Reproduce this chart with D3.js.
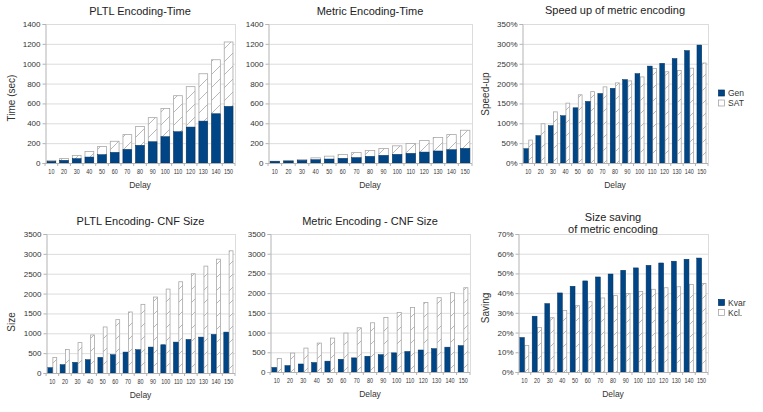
<!DOCTYPE html>
<html>
<head>
<meta charset="utf-8">
<script src="https://cdn.jsdelivr.net/npm/d3@7/dist/d3.min.js"></script>
<style>
    body { margin: 0; background: #fff; }
    svg { display: block; font-family: "Liberation Sans", Arial, sans-serif; }
</style>
</head>
<body>
<div class="container"></div>
<script>
// ---- data ----
const delays = [10, 20, 30, 40, 50, 60, 70, 80, 90, 100, 110, 120, 130, 140, 150]

// encoding time (sec), blue = generation, white = total (generation + SAT)
const pltlTimeGen   = [17, 27, 44, 60, 84, 107, 137, 178, 214, 265, 315, 362, 422, 496, 570]
const pltlTimeTotal = [30, 50, 80, 120, 171, 224, 291, 372, 462, 553, 683, 774, 904, 1045, 1224]
const metricTimeGen   = [17, 20, 27, 33, 40, 47, 54, 67, 77, 87, 97, 110, 121, 134, 147]
const metricTimeTotal = [23, 30, 40, 57, 74, 90, 110, 131, 151, 178, 201, 231, 261, 291, 335]

// speed-up (%)
const speedupGen = [36, 69, 94, 119, 139, 155, 175, 188, 210, 225, 244, 251, 263, 283, 297]
const speedupSat = [59, 100, 130, 152, 173, 181, 193, 203, 208, 218, 239, 231, 234, 240, 253]

// CNF size, blue = variables, white = clauses
const pltlSizeVars    = [134, 209, 268, 335, 393, 460, 527, 586, 653, 711, 778, 845, 904, 971, 1030]
const pltlSizeClauses = [402, 603, 778, 971, 1172, 1356, 1549, 1741, 1925, 2126, 2310, 2511, 2704, 2879, 3089]
const metricSizeVars    = [115, 162, 203, 240, 275, 322, 358, 400, 440, 485, 520, 558, 592, 630, 668]
const metricSizeClauses = [355, 492, 619, 746, 873, 1000, 1134, 1261, 1395, 1522, 1650, 1777, 1897, 2024, 2150]

// size saving (%)
const savingKvar = [17.5, 28.3, 34.7, 40.1, 43.5, 46.2, 48.2, 49.7, 51.6, 52.8, 54.1, 55.3, 56.2, 57.2, 57.8]
const savingKcl  = [13.7, 22.8, 27.8, 31.5, 33.9, 35.9, 37.8, 39.0, 40.1, 41.1, 42.2, 43.0, 43.5, 44.7, 45.2]

// tick labels
const timeTicks   = [0, 200, 400, 600, 800, 1000, 1200, 1400]
const speedTicks  = [0, 50, 100, 150, 200, 250, 300, 350]
const sizeTicks   = [0, 500, 1000, 1500, 2000, 2500, 3000, 3500]
const savingTicks = [0, 10, 20, 30, 40, 50, 60, 70]

const speedLegend  = ["Gen", "SAT"]
const savingLegend = ["Kvar", "Kcl."]

// ---- drawing ----
const BLUE = "#004586"
const W = 763, H = 412

const svg = d3.select("div.container").append("svg")
    .attr("width", W)
    .attr("height", H)

// hatch pattern for the white bars
svg.append("defs").append("pattern")
    .attr("id", "hatch")
    .attr("patternUnits", "userSpaceOnUse")
    .attr("width", 13)
    .attr("height", 13)
    .call(p => {
        p.append("rect").attr("width", 13).attr("height", 13).attr("fill", "#fff")
        p.append("path")
            .attr("d", "M0,13 L13,0 M-3,3 L3,-3 M10,16 L16,10")
            .attr("stroke", "#9a9a9a")
            .attr("stroke-width", 0.7)
    })

const pct = d => d + "%"

const panels = [
    { title: ["PLTL Encoding-Time"], yLabel: "Time (sec)", ticks: timeTicks, fmt: String,
      mode: "overlap", front: pltlTimeGen, back: pltlTimeTotal,
      box: { l: 45, t: 24, r: 235, b: 163 }, titleY: 15, yLabelX: 11, yLabelY: 98 },
    { title: ["Metric Encoding-Time"], yLabel: null, ticks: timeTicks, fmt: String,
      mode: "overlap", front: metricTimeGen, back: metricTimeTotal,
      box: { l: 268, t: 24, r: 472, b: 163 }, titleY: 15 },
    { title: ["Speed up of metric encoding"], yLabel: "Speed-up", ticks: speedTicks, fmt: pct,
      mode: "side", front: speedupGen, back: speedupSat, legend: speedLegend,
      box: { l: 522, t: 24, r: 708, b: 163 }, titleY: 14, yLabelX: 485, yLabelY: 94 },
    { title: ["PLTL Encoding- CNF Size"], yLabel: "Size", ticks: sizeTicks, fmt: String,
      mode: "side", front: pltlSizeVars, back: pltlSizeClauses,
      box: { l: 46, t: 234, r: 235, b: 373 }, titleY: 225, yLabelX: 11, yLabelY: 322 },
    { title: ["Metric Encoding - CNF Size"], yLabel: null, ticks: sizeTicks, fmt: String,
      mode: "side", front: metricSizeVars, back: metricSizeClauses,
      box: { l: 270, t: 234, r: 470, b: 372 }, titleY: 225 },
    { title: ["Size saving", "of metric encoding"], yLabel: "Saving", ticks: savingTicks, fmt: pct,
      mode: "side", front: savingKvar, back: savingKcl, legend: savingLegend,
      box: { l: 518, t: 234, r: 708, b: 372 }, titleY: 221, yLabelX: 485, yLabelY: 308 }
]

panels.forEach(p => {
    const { l, t, r, b } = p.box
    const g = svg.append("g")

    const x = d3.scaleBand().domain(delays).range([l, r]).paddingInner(0.23).paddingOuter(0.12)
    const y = d3.scaleLinear().domain([0, d3.max(p.ticks)]).range([b, t])

    // grid lines
    g.append("g").selectAll("line")
        .data(p.ticks.slice(1))
        .join("line")
        .attr("x1", l).attr("x2", r)
        .attr("y1", d => y(d) + 0.5).attr("y2", d => y(d) + 0.5)
        .attr("stroke", "#dcdcdc")

    // right frame
    g.append("line")
        .attr("x1", r + 0.5).attr("x2", r + 0.5)
        .attr("y1", t).attr("y2", b)
        .attr("stroke", "#dcdcdc")

    // bars
    if (p.mode === "overlap") {
        g.append("g").selectAll("rect")
            .data(p.back)
            .join("rect")
            .attr("x", (d, i) => x(delays[i]) + 0.5)
            .attr("y", d => y(d) + 0.5)
            .attr("width", x.bandwidth() - 1)
            .attr("height", d => y(0) - y(d))
            .attr("fill", "url(#hatch)")
            .attr("stroke", "#a8a8a8")
            .attr("stroke-width", 0.8)
        g.append("g").selectAll("rect")
            .data(p.front)
            .join("rect")
            .attr("x", (d, i) => x(delays[i]) + 0.5)
            .attr("y", d => y(d))
            .attr("width", x.bandwidth() - 1)
            .attr("height", d => y(0) - y(d))
            .attr("fill", BLUE)
            .attr("stroke", "#00305e")
            .attr("stroke-width", 0.5)
    } else {
        const half = x.bandwidth() / 2
        g.append("g").selectAll("rect")
            .data(p.back)
            .join("rect")
            .attr("x", (d, i) => x(delays[i]) + half + 0.5)
            .attr("y", d => y(d) + 0.5)
            .attr("width", half - 1)
            .attr("height", d => y(0) - y(d))
            .attr("fill", "url(#hatch)")
            .attr("stroke", "#a8a8a8")
            .attr("stroke-width", 0.8)
        g.append("g").selectAll("rect")
            .data(p.front)
            .join("rect")
            .attr("x", (d, i) => x(delays[i]))
            .attr("y", d => y(d))
            .attr("width", half)
            .attr("height", d => y(0) - y(d))
            .attr("fill", BLUE)
            .attr("stroke", "#00305e")
            .attr("stroke-width", 0.5)
    }

    // y axis
    const yAxis = g.append("g")
        .attr("transform", `translate(${l + 0.5},0)`)
        .call(d3.axisLeft(y).tickValues(p.ticks).tickFormat(p.fmt).tickSize(3).tickPadding(2))
    yAxis.select(".domain").attr("stroke", "#b3b3b3")
    yAxis.selectAll(".tick line").attr("stroke", "#b3b3b3")
    yAxis.selectAll("text").attr("font-size", 8).attr("fill", "#333")
        .attr("font-family", "Liberation Sans, Arial, sans-serif")

    // x axis, ticks between the categories
    g.append("line")
        .attr("x1", l).attr("x2", r)
        .attr("y1", b + 0.5).attr("y2", b + 0.5)
        .attr("stroke", "#b3b3b3")
    const step = x.step()
    g.append("g").selectAll("line")
        .data(delays.concat(["end"]))
        .join("line")
        .attr("x1", (d, i) => i < delays.length ? x(d) - step * 0.115 : r)
        .attr("x2", (d, i) => i < delays.length ? x(d) - step * 0.115 : r)
        .attr("y1", b).attr("y2", b + 3)
        .attr("stroke", "#b3b3b3")
    g.append("g").selectAll("text")
        .data(delays)
        .join("text")
        .attr("transform", d => `translate(${x(d) + x.bandwidth() / 2},${b + 11}) scale(0.8,1)`)
        .attr("text-anchor", "middle")
        .attr("font-size", 6.8)
        .attr("fill", "#333")
        .text(d => d)

    // x label
    g.append("text")
        .attr("x", (l + r) / 2)
        .attr("y", b + 25)
        .attr("text-anchor", "middle")
        .attr("font-size", 8.5)
        .attr("fill", "#333")
        .text("Delay")

    // title
    g.append("g").selectAll("text")
        .data(p.title)
        .join("text")
        .attr("x", (l + r) / 2)
        .attr("y", (d, i) => p.titleY + i * 11.5)
        .attr("text-anchor", "middle")
        .attr("font-size", 11)
        .attr("fill", "#222")
        .text(d => d)

    // y label
    if (p.yLabel) {
        g.append("text")
            .attr("transform", `translate(${p.yLabelX + 3.5},${p.yLabelY}) rotate(-90)`)
            .attr("text-anchor", "middle")
            .attr("font-size", 10)
            .attr("fill", "#333")
            .text(p.yLabel)
    }

    // legend
    if (p.legend) {
        const lg = g.append("g").attr("transform", `translate(718,${(t + b) / 2 - 4})`)
        lg.selectAll("rect")
            .data(p.legend)
            .join("rect")
            .attr("x", 0.5)
            .attr("y", (d, i) => i * 10 + 0.5)
            .attr("width", 6)
            .attr("height", 6)
            .attr("fill", (d, i) => i === 0 ? BLUE : "#fff")
            .attr("stroke", (d, i) => i === 0 ? "#00305e" : "#999")
            .attr("stroke-width", 0.7)
        lg.selectAll("text")
            .data(p.legend)
            .join("text")
            .attr("x", 10)
            .attr("y", (d, i) => i * 10 + 6.5)
            .attr("font-size", 8.5)
            .attr("fill", "#333")
            .text(d => d)
    }
})
</script>
</body>
</html>
